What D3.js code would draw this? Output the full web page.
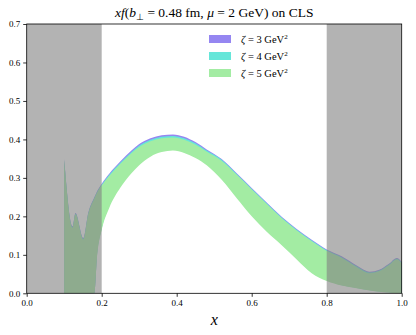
<!DOCTYPE html>
<html>
<head>
<meta charset="utf-8">
<script src="https://cdn.jsdelivr.net/npm/d3@7"></script>
<style>
  body { margin: 0; background: #fff; }
  text { font-family: 'Liberation Serif', 'Times New Roman', serif; fill: #000; }
</style>
</head>
<body>
<script>
// x grid of the bands
const xs = [0.100, 0.122, 0.130, 0.151, 0.164, 0.180, 0.188, 0.200, 0.220, 0.250, 0.280, 0.300, 0.330, 0.360, 0.390, 0.420, 0.450, 0.480, 0.520, 0.560, 0.600, 0.640, 0.680, 0.720, 0.760, 0.800, 0.840, 0.880, 0.915, 0.940, 0.965, 0.987, 1.000]

// zeta = 5 GeV^2
const upper5 = [0.345, 0.170, 0.205, 0.140, 0.205, 0.245, 0.262, 0.280, 0.305, 0.337, 0.365, 0.380, 0.395, 0.403, 0.405, 0.399, 0.386, 0.368, 0.344, 0.308, 0.270, 0.232, 0.195, 0.163, 0.135, 0.110, 0.092, 0.068, 0.052, 0.057, 0.072, 0.088, 0.078]
const lower5 = [0.000, 0.000, 0.000, 0.000, 0.000, 0.000, 0.100, 0.165, 0.222, 0.275, 0.313, 0.333, 0.355, 0.367, 0.371, 0.365, 0.352, 0.333, 0.295, 0.247, 0.200, 0.160, 0.125, 0.088, 0.052, 0.032, 0.020, 0.013, 0.007, 0.004, 0.002, 0.000, 0.000]
// zeta = 4 GeV^2
const upper4 = [0.347, 0.172, 0.207, 0.142, 0.207, 0.247, 0.264, 0.282, 0.308, 0.340, 0.368, 0.384, 0.399, 0.407, 0.409, 0.403, 0.390, 0.371, 0.347, 0.310, 0.272, 0.234, 0.197, 0.165, 0.137, 0.112, 0.094, 0.070, 0.054, 0.059, 0.074, 0.090, 0.080]
const lower4 = [0.000, 0.000, 0.000, 0.000, 0.000, 0.000, 0.104, 0.168, 0.226, 0.279, 0.317, 0.337, 0.359, 0.371, 0.375, 0.369, 0.356, 0.337, 0.298, 0.250, 0.203, 0.162, 0.127, 0.090, 0.054, 0.034, 0.021, 0.014, 0.008, 0.005, 0.003, 0.001, 0.000]
// zeta = 3 GeV^2
const upper3 = [0.349, 0.174, 0.209, 0.144, 0.209, 0.249, 0.266, 0.285, 0.311, 0.343, 0.372, 0.388, 0.403, 0.411, 0.413, 0.407, 0.393, 0.374, 0.349, 0.312, 0.274, 0.236, 0.199, 0.167, 0.139, 0.114, 0.096, 0.072, 0.056, 0.061, 0.076, 0.092, 0.082]
const lower3 = [0.000, 0.000, 0.000, 0.000, 0.000, 0.000, 0.108, 0.171, 0.230, 0.283, 0.321, 0.341, 0.363, 0.375, 0.379, 0.373, 0.360, 0.341, 0.301, 0.253, 0.206, 0.164, 0.129, 0.092, 0.056, 0.036, 0.022, 0.015, 0.009, 0.006, 0.004, 0.002, 0.000]

const zetas = [3, 4, 5]
const bandColors = ['#9586f1', '#66e6d9', '#a3eca3']
const shaded = [[0.0, 0.2], [0.8, 1.0]]
const xTicks = [0.0, 0.2, 0.4, 0.6, 0.8, 1.0]
const yTicks = [0.0, 0.1, 0.2, 0.3, 0.4, 0.5, 0.6, 0.7]

const W = 416, H = 335
const mLeft = 26.7, mRight = 401.7, mTop = 24, mBottom = 293.3

const svg = d3.select('body').append('svg')
  .attr('width', W)
  .attr('height', H)

const x = d3.scaleLinear().domain([0, 1]).range([mLeft, mRight])
const y = d3.scaleLinear().domain([0, 0.7]).range([mBottom, mTop])

svg.append('defs').append('clipPath')
  .attr('id', 'plot')
  .append('rect')
  .attr('x', mLeft).attr('y', mTop)
  .attr('width', mRight - mLeft).attr('height', mBottom - mTop)

const g = svg.append('g').attr('clip-path', 'url(#plot)')

const bands = [
  { lo: lower3, hi: upper3 },
  { lo: lower4, hi: upper4 },
  { lo: lower5, hi: upper5 }
]

const area = d3.area()
  .x(d => x(d.x))
  .y0(d => y(d.lo))
  .y1(d => y(d.hi))
  .curve(d3.curveMonotoneX)

bands.forEach((b, i) => {
  const pts = xs.map((v, j) => ({ x: v, lo: b.lo[j], hi: b.hi[j] }))
  g.append('path')
    .attr('d', area(pts))
    .attr('fill', bandColors[i])
})

// excluded regions drawn over the bands
g.selectAll('.shade')
  .data(shaded)
  .join('rect')
  .attr('class', 'shade')
  .attr('x', d => x(d[0]))
  .attr('width', d => x(d[1]) - x(d[0]))
  .attr('y', mTop)
  .attr('height', mBottom - mTop)
  .attr('fill', '#808080')
  .attr('fill-opacity', 0.6)

// axes
const xAxis = svg.append('g')
  .attr('transform', `translate(0,${mBottom})`)
  .call(d3.axisBottom(x).tickValues(xTicks).tickFormat(d3.format('.1f')).tickSize(3.5).tickPadding(3))
const yAxis = svg.append('g')
  .attr('transform', `translate(${mLeft},0)`)
  .call(d3.axisLeft(y).tickValues(yTicks).tickFormat(d3.format('.1f')).tickSize(3.5).tickPadding(3))

;[xAxis, yAxis].forEach(a => {
  a.select('.domain').remove()
  a.selectAll('line').attr('stroke', '#000').attr('stroke-width', 0.8)
  a.selectAll('text').attr('font-size', 9).attr('fill', '#222')
})

svg.append('rect')
  .attr('x', mLeft).attr('y', mTop)
  .attr('width', mRight - mLeft).attr('height', mBottom - mTop)
  .attr('fill', 'none')
  .attr('stroke', '#000')
  .attr('stroke-width', 0.8)

// title
const title = svg.append('text')
  .attr('x', (mLeft + mRight) / 2)
  .attr('y', 17)
  .attr('text-anchor', 'middle')
  .attr('font-size', 13.5)
title.append('tspan').attr('font-style', 'italic').text('xf')
title.append('tspan').text('(')
title.append('tspan').attr('font-style', 'italic').text('b')
title.append('tspan').attr('font-size', 9).attr('dy', 2.5).text('⊥')
title.append('tspan').attr('dy', -2.5).text(' = 0.48 fm,  ')
title.append('tspan').attr('font-style', 'italic').text('μ')
title.append('tspan').text(' = 2 GeV) on CLS')

// x label
svg.append('text')
  .attr('x', (mLeft + mRight) / 2)
  .attr('y', 325)
  .attr('text-anchor', 'middle')
  .attr('font-size', 16)
  .attr('font-style', 'italic')
  .text('x')

// legend
const legend = svg.append('g').attr('transform', 'translate(209,35)')
zetas.forEach((z, i) => {
  const row = legend.append('g').attr('transform', `translate(0,${i * 17})`)
  row.append('rect')
    .attr('width', 22).attr('height', 8)
    .attr('fill', bandColors[i])
  const t = row.append('text')
    .attr('x', 32)
    .attr('y', 7.5)
    .attr('font-size', 10.5)
  t.append('tspan').attr('font-style', 'italic').text('ζ')
  t.append('tspan').text(` = ${z} GeV`)
  t.append('tspan').attr('font-size', 7).attr('dy', -4).text('2')
})
</script>
</body>
</html>
